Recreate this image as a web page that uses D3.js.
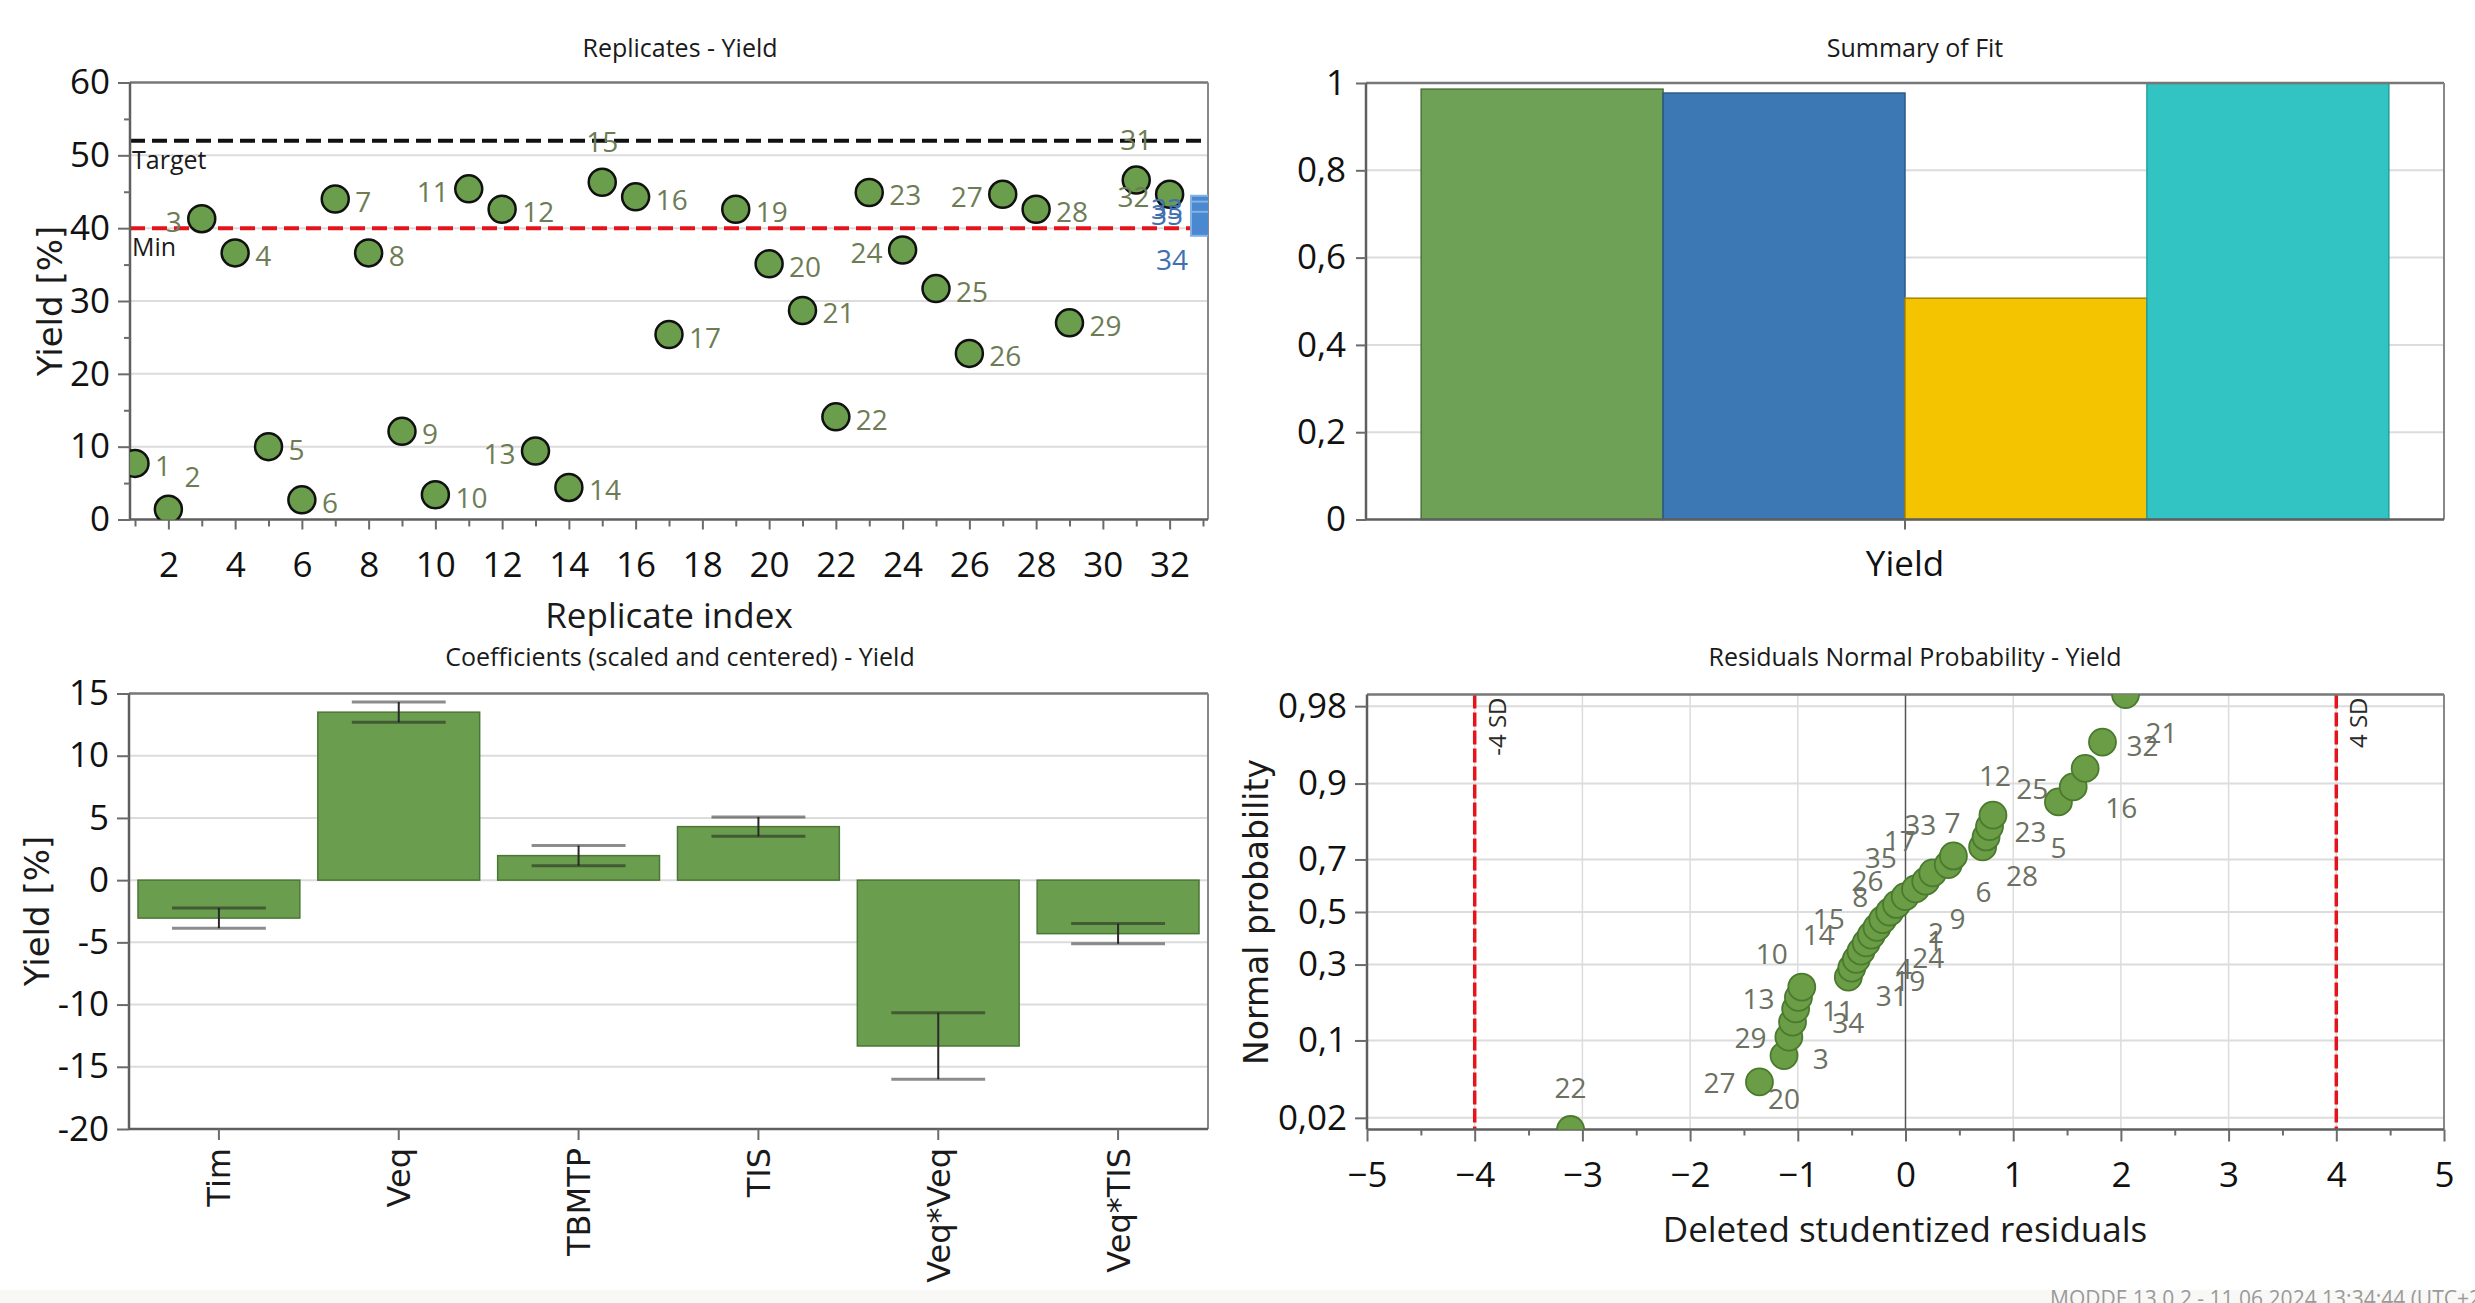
<!DOCTYPE html>
<html>
<head>
<meta charset="utf-8">
<script src="https://cdn.jsdelivr.net/npm/d3@7"></script>
<style>
  html, body { margin: 0; padding: 0; background: #ffffff; }
  svg { display: block; }
</style>
</head>
<body>
<svg id="chart" width="2475" height="1303"></svg>
<script>
// ---------------- Replicates - Yield ----------------
const replicateIndex = [1,2,3,4,5,6,7,8,9,10,11,12,13,14,15,16,17,19,20,21,22,23,24,25,26,27,28,29,31,32];
const replicateYield = [7.7,1.4,41.3,36.6,10.0,2.7,44.0,36.6,12.1,3.4,45.4,42.6,9.4,4.4,46.3,44.3,25.4,42.6,35.1,28.7,14.1,44.9,37.0,31.7,22.8,44.65,42.6,27.0,46.6,44.65];
const replicateRun = [1,2,3,4,5,6,7,8,9,10,11,12,13,14,15,16,17,19,20,21,22,23,24,25,26,27,28,29,31,32];
const centerIndex = [33,33,33];
const centerYield = [42.8,42.0,40.6];
const centerRun = [33,35,34];
const targetYield = 52;
const minYield = 40;
const yieldTicks = [0,10,20,30,40,50,60];
const yieldMinorTicks = [5,15,25,35,45,55];
const replicateTicks = [2,4,6,8,10,12,14,16,18,20,22,24,26,28,30,32];
const replicateMinorTicks = [1,3,5,7,9,11,13,15,17,19,21,23,25,27,29,31,33];

// ---------------- Summary of Fit ----------------
const fitResponse = ["Yield"];
const fitMetrics = ["R2","Q2","Model validity","Reproducibility"];
const fitValues = [0.986,0.977,0.507,0.999];
const fitTicks = [0,0.2,0.4,0.6,0.8,1];
const fitTickLabels = ["0","0,2","0,4","0,6","0,8","1"];

// ---------------- Coefficients ----------------
const coefTerms = ["Tim","Veq","TBMTP","TIS","Veq*Veq","Veq*TIS"];
const coefValues = [-3.05,13.5,1.97,4.3,-13.33,-4.3];
const coefErrors = [0.81,0.81,0.81,0.78,2.67,0.81];
const coefTicks = [15,10,5,0,-5,-10,-15,-20];

// ---------------- Residuals Normal Probability ----------------
const npRun = [22,27,20,3,29,11,13,10,34,31,19,4,24,1,2,14,15,9,8,26,35,17,33,7,6,28,23,12,5,25,16,32,21];
const npResidual = [-3.11,-1.356,-1.128,-1.083,-1.049,-1.020,-0.994,-0.963,-0.531,-0.499,-0.457,-0.413,-0.365,-0.317,-0.265,-0.211,-0.147,-0.083,-0.003,0.093,0.188,0.253,0.397,0.445,0.716,0.748,0.780,0.812,1.420,1.557,1.668,1.829,2.043];
const npProbability = [0.015,0.045,0.076,0.106,0.136,0.167,0.197,0.227,0.258,0.288,0.318,0.348,0.379,0.409,0.439,0.470,0.500,0.530,0.561,0.591,0.621,0.652,0.682,0.712,0.742,0.773,0.803,0.833,0.864,0.894,0.924,0.955,0.985];
const probTicks = [0.02,0.1,0.3,0.5,0.7,0.9,0.98];
const probTickLabels = ["0,02","0,1","0,3","0,5","0,7","0,9","0,98"];
const residualTicks = [-5,-4,-3,-2,-1,0,1,2,3,4,5];
const residualMinorTicks = [-4.5,-3.5,-2.5,-1.5,-0.5,0.5,1.5,2.5,3.5,4.5];
const sdLimits = [-4,4];
const sdLabels = ["-4 SD","4 SD"];

// ---------------- layout (label placement, not data) ----------------
const replicateLabelSide = {2:"ar",3:"l",11:"l",13:"l",15:"a",24:"l",27:"l",31:"a",32:"l"};
const npLabelOffset = [[0,-43],[-40,0],[0,42],[32,21],[-42,15],[42,1],[-40,1],[-30,-34],[0,45],[40,27],[53,21],[43,17],[62,14],[64,5],[59,5],[-64,14],[-61,6],[61,14],[-45,-1],[-48,-9],[-45,-24],[-33,-33],[-28,-41],[-1,-34],[1,44],[36,38],[41,4],[2,-40],[0,45],[-41,1],[36,39],[40,3],[36,37]];

const SANS = '"Open Sans", "Noto Sans", sans-serif';
const WIDE = '"DejaVu Sans", Verdana, sans-serif';
const AXIS_COL = "#6b6b6b";
const GRID_COL = "#dcdcdc";

const svg = d3.select("#chart");
const defs = svg.append("defs");

function clipRect(id, b) {
  defs.append("clipPath").attr("id", id).append("rect")
    .attr("x", b.l).attr("y", b.t).attr("width", b.r - b.l).attr("height", b.b - b.t);
  return "url(#" + id + ")";
}
function styleAxis(g, size, width) {
  g.select(".domain").remove();
  g.selectAll(".tick line").attr("stroke", AXIS_COL).attr("stroke-width", width || 2);
  g.selectAll(".tick text").attr("fill", "#111").style("font-family", SANS).style("font-size", (size || 34) + "px");
}
function frame(g, b) {
  g.append("line").attr("x1", b.l).attr("x2", b.r).attr("y1", b.t).attr("y2", b.t).attr("stroke", "#777").attr("stroke-width", 2.5);
  g.append("line").attr("x1", b.r).attr("x2", b.r).attr("y1", b.t).attr("y2", b.b).attr("stroke", "#888").attr("stroke-width", 2);
  g.append("line").attr("x1", b.l).attr("x2", b.l).attr("y1", b.t).attr("y2", b.b).attr("stroke", "#5f5f5f").attr("stroke-width", 2.5);
  g.append("line").attr("x1", b.l).attr("x2", b.r).attr("y1", b.b).attr("y2", b.b).attr("stroke", "#5f5f5f").attr("stroke-width", 2.5);
}
function title(text, x, y) {
  svg.append("text").attr("x", x).attr("y", y).attr("text-anchor", "middle")
    .style("font-family", SANS).style("font-size", "25px").attr("fill", "#1a1a1a").text(text);
}
function yTitle(text, x, y, size) {
  svg.append("text").attr("transform", `translate(${x},${y}) rotate(-90)`)
    .attr("text-anchor", "middle").attr("dominant-baseline", "central")
    .style("font-family", WIDE).style("font-size", (size || 34) + "px").attr("fill", "#1a1a1a").text(text);
}

// inverse of the standard normal CDF (Acklam)
function probit(p) {
  const a = [-3.969683028665376e+01, 2.209460984245205e+02, -2.759285104469687e+02, 1.383577518672690e+02, -3.066479806614716e+01, 2.506628277459239e+00];
  const b = [-5.447609879822406e+01, 1.615858368580409e+02, -1.556989798598866e+02, 6.680131188771972e+01, -1.328068155288572e+01];
  const c = [-7.784894002430293e-03, -3.223964580411365e-01, -2.400758277161838e+00, -2.549732539343734e+00, 4.374664141464968e+00, 2.938163982698783e+00];
  const d = [7.784695709041462e-03, 3.224671290700398e-01, 2.445134137142996e+00, 3.754408661907416e+00];
  const pl = 0.02425, ph = 1 - pl;
  let q, r;
  if (p < pl) {
    q = Math.sqrt(-2 * Math.log(p));
    return (((((c[0]*q+c[1])*q+c[2])*q+c[3])*q+c[4])*q+c[5]) / ((((d[0]*q+d[1])*q+d[2])*q+d[3])*q+1);
  }
  if (p > ph) {
    q = Math.sqrt(-2 * Math.log(1 - p));
    return -(((((c[0]*q+c[1])*q+c[2])*q+c[3])*q+c[4])*q+c[5]) / ((((d[0]*q+d[1])*q+d[2])*q+d[3])*q+1);
  }
  q = p - 0.5; r = q * q;
  return (((((a[0]*r+a[1])*r+a[2])*r+a[3])*r+a[4])*r+a[5])*q / (((((b[0]*r+b[1])*r+b[2])*r+b[3])*r+b[4])*r+1);
}

// ======================= Replicates - Yield =======================
{
  const B = {l: 130, r: 1208, t: 82.5, b: 519.5};
  const x = d3.scaleLinear().domain([0.85, 33.15]).range([B.l, B.r]);
  const y = d3.scaleLinear().domain([0, 60]).range([B.b, B.t]);
  const g = svg.append("g");
  const cp = clipRect("clipRep", B);

  g.selectAll("line.grid").data(yieldTicks.filter(v => v > 0 && v < 60)).join("line")
    .attr("x1", B.l).attr("x2", B.r).attr("y1", d => y(d)).attr("y2", d => y(d))
    .attr("stroke", GRID_COL).attr("stroke-width", 2);

  // reference lines
  g.append("line").attr("x1", B.l).attr("x2", B.r).attr("y1", y(targetYield)).attr("y2", y(targetYield))
    .attr("stroke", "#111").attr("stroke-width", 4).attr("stroke-dasharray", "15,7");
  g.append("line").attr("x1", B.l).attr("x2", B.r).attr("y1", y(minYield)).attr("y2", y(minYield))
    .attr("stroke", "#e3141c").attr("stroke-width", 4).attr("stroke-dasharray", "15,7");
  g.append("text").attr("x", B.l + 2).attr("y", y(targetYield) + 28).style("font-family", SANS)
    .style("font-size", "25px").attr("fill", "#1a1a1a").text("Target");
  g.append("text").attr("x", B.l + 2).attr("y", y(minYield) + 28).style("font-family", SANS)
    .style("font-size", "25px").attr("fill", "#1a1a1a").text("Min");

  frame(g, B);

  const ax = g.append("g").attr("transform", `translate(${B.l},0)`)
    .call(d3.axisLeft(y).tickValues(yieldTicks).tickSize(12).tickPadding(8).tickFormat(d3.format("d")));
  styleAxis(ax, 35);
  const axm = g.append("g").attr("transform", `translate(${B.l},0)`)
    .call(d3.axisLeft(y).tickValues(yieldMinorTicks).tickSize(6).tickFormat(""));
  styleAxis(axm);
  const bx = g.append("g").attr("transform", `translate(0,${B.b})`)
    .call(d3.axisBottom(x).tickValues(replicateTicks).tickSize(10).tickPadding(23).tickFormat(d3.format("d")));
  styleAxis(bx, 35);
  const bxm = g.append("g").attr("transform", `translate(0,${B.b})`)
    .call(d3.axisBottom(x).tickValues(replicateMinorTicks).tickSize(7).tickFormat(""));
  styleAxis(bxm);

  // center points (blue squares)
  const sq = 24;
  g.append("g").attr("clip-path", cp).selectAll("rect").data(centerIndex.map((v, i) => i)).join("rect")
    .attr("x", i => x(centerIndex[i]) - sq / 2).attr("y", i => y(centerYield[i]) - sq / 2)
    .attr("width", sq).attr("height", sq)
    .attr("fill", "#4a88cf").attr("stroke", "#82b2e6").attr("stroke-width", 2);

  // replicate points
  g.append("g").attr("clip-path", cp).selectAll("circle").data(replicateIndex.map((v, i) => i)).join("circle")
    .attr("cx", i => x(replicateIndex[i])).attr("cy", i => y(replicateYield[i])).attr("r", 13.5)
    .attr("fill", "#6a9d4c").attr("stroke", "#111").attr("stroke-width", 2.5);

  // point labels
  const lg = g.append("g").style("font-family", SANS).style("font-size", "28px");
  replicateIndex.forEach((v, i) => {
    const cx = x(v), cy = y(replicateYield[i]);
    const side = replicateLabelSide[replicateRun[i]] || "r";
    let tx = cx + 20, ty = cy + 2, anchor = "start";
    if (side === "l") { tx = cx - 20; anchor = "end"; }
    if (side === "a") { tx = cx; ty = cy - 41; anchor = "middle"; }
    if (side === "ar") { tx = cx + 16; ty = cy - 33; anchor = "start"; }
    lg.append("text").attr("x", tx).attr("y", ty).attr("text-anchor", anchor)
      .attr("dominant-baseline", "central").attr("fill", "#6e7c55").text(replicateRun[i]);
  });
  centerIndex.forEach((v, i) => {
    const cx = x(v), cy = y(centerYield[i]);
    const below = centerRun[i] === 34;
    lg.append("text").attr("x", below ? cx - 31 : cx - 20).attr("y", below ? cy + 35 : cy)
      .attr("text-anchor", below ? "middle" : "end").attr("dominant-baseline", "central")
      .attr("fill", "#4070b0").text(centerRun[i]);
  });

  title("Replicates - Yield", 680, 57);
  yTitle("Yield [%]", 50, 301, 34);
  svg.append("text").attr("x", 669).attr("y", 628).attr("text-anchor", "middle")
    .style("font-family", SANS).style("font-size", "35px").attr("fill", "#1a1a1a").text("Replicate index");
}

// ======================= Summary of Fit =======================
{
  const B = {l: 1366, r: 2444, t: 83, b: 519.5};
  const x = d3.scaleBand().domain(fitResponse).range([B.l, B.r]).paddingInner(0).paddingOuter(0.057);
  const xm = d3.scaleBand().domain(fitMetrics).range([0, x.bandwidth()]).padding(0);
  const y = d3.scaleLinear().domain([0, 1]).range([B.b, B.t]);
  const fills = ["#6ea155", "#3c78b4", "#f5c400", "#32c4c2"];
  const strokes = ["#4a7436", "#2a5888", "#a88400", "#22a09f"];
  const g = svg.append("g");

  g.selectAll("line.grid").data(fitTicks.filter(v => v > 0 && v < 1)).join("line")
    .attr("x1", B.l).attr("x2", B.r).attr("y1", d => y(d)).attr("y2", d => y(d))
    .attr("stroke", GRID_COL).attr("stroke-width", 2);

  g.selectAll("rect").data(fitMetrics.map((m, i) => i)).join("rect")
    .attr("x", i => x(fitResponse[0]) + xm(fitMetrics[i]))
    .attr("y", i => y(fitValues[i]))
    .attr("width", xm.bandwidth())
    .attr("height", i => y(0) - y(fitValues[i]))
    .attr("fill", i => fills[i]).attr("stroke", i => strokes[i]).attr("stroke-width", 1.5);

  frame(g, B);
  const ax = g.append("g").attr("transform", `translate(${B.l},0)`)
    .call(d3.axisLeft(y).tickValues(fitTicks).tickSize(10).tickPadding(10).tickFormat((d, i) => fitTickLabels[i]));
  styleAxis(ax, 35);
  const bx = g.append("g").attr("transform", `translate(0,${B.b})`)
    .call(d3.axisBottom(x).tickSize(10).tickPadding(22));
  styleAxis(bx, 35);

  title("Summary of Fit", 1915, 57);
}

// ======================= Coefficients =======================
{
  const B = {l: 129, r: 1208, t: 693.5, b: 1129};
  const x = d3.scaleBand().domain(coefTerms).range([B.l, B.r]).paddingInner(0.1).paddingOuter(0.05);
  const y = d3.scaleLinear().domain([-20, 15]).range([B.b, B.t]);
  const g = svg.append("g");

  g.selectAll("line.grid").data(coefTicks.filter(v => v > -20 && v < 15)).join("line")
    .attr("x1", B.l).attr("x2", B.r).attr("y1", d => y(d)).attr("y2", d => y(d))
    .attr("stroke", GRID_COL).attr("stroke-width", 2);

  g.selectAll("rect").data(coefTerms.map((t, i) => i)).join("rect")
    .attr("x", i => x(coefTerms[i]))
    .attr("y", i => y(Math.max(0, coefValues[i])))
    .attr("width", x.bandwidth())
    .attr("height", i => Math.abs(y(coefValues[i]) - y(0)))
    .attr("fill", "#6a9d4e").attr("stroke", "#4b7636").attr("stroke-width", 1.5);

  // confidence intervals
  const capW = x.bandwidth() * 0.58;
  const eg = g.append("g");
  coefTerms.forEach((t, i) => {
    const cx = x(t) + x.bandwidth() / 2;
    const hi = coefValues[i] + coefErrors[i], lo = coefValues[i] - coefErrors[i];
    eg.append("line").attr("x1", cx).attr("x2", cx).attr("y1", y(hi)).attr("y2", y(lo))
      .attr("stroke", "#2a2a2a").attr("stroke-width", 2);
    [hi, lo].forEach(v => {
      eg.append("line").attr("x1", cx - capW / 2).attr("x2", cx + capW / 2).attr("y1", y(v)).attr("y2", y(v))
        .attr("stroke", "#1a1a1a").attr("stroke-opacity", 0.5).attr("stroke-width", 3);
    });
  });

  frame(g, B);
  const ax = g.append("g").attr("transform", `translate(${B.l},0)`)
    .call(d3.axisLeft(y).tickValues(coefTicks).tickSize(12).tickPadding(8).tickFormat(d => String(d)));
  styleAxis(ax, 35);
  const bx = g.append("g").attr("transform", `translate(0,${B.b})`)
    .call(d3.axisBottom(x).tickSize(11).tickFormat(""));
  styleAxis(bx);

  g.append("g").selectAll("text").data(coefTerms).join("text")
    .attr("transform", d => `translate(${x(d) + x.bandwidth() / 2},${B.b + 19}) rotate(-90)`)
    .attr("text-anchor", "end").attr("dy", "0.36em")
    .style("font-family", WIDE).style("font-size", "32px").attr("fill", "#1a1a1a").text(d => d);

  title("Coefficients (scaled and centered) - Yield", 680, 666);
  yTitle("Yield [%]", 37, 911, 34);
}

// ======================= Residuals Normal Probability =======================
{
  const B = {l: 1367, r: 2444, t: 694.5, b: 1129.5};
  const x = d3.scaleLinear().domain([-5, 5]).range([B.l, B.r]);
  const y = d3.scaleLinear().domain(d3.extent(npProbability.map(probit))).range([B.b, B.t]);
  const g = svg.append("g");
  const cp = clipRect("clipNp", B);

  g.selectAll("line.vgrid").data(residualTicks.filter(v => v > -5 && v < 5 && v !== 0)).join("line")
    .attr("x1", d => x(d)).attr("x2", d => x(d)).attr("y1", B.t).attr("y2", B.b)
    .attr("stroke", GRID_COL).attr("stroke-width", 1.5);
  g.selectAll("line.hgrid").data(probTicks).join("line")
    .attr("x1", B.l).attr("x2", B.r).attr("y1", d => y(probit(d))).attr("y2", d => y(probit(d)))
    .attr("stroke", GRID_COL).attr("stroke-width", 2);
  g.append("line").attr("x1", x(0)).attr("x2", x(0)).attr("y1", B.t).attr("y2", B.b)
    .attr("stroke", "#555").attr("stroke-width", 1.5);

  // +/- 4 SD limits
  sdLimits.forEach((v, i) => {
    g.append("line").attr("x1", x(v)).attr("x2", x(v)).attr("y1", B.t).attr("y2", B.b)
      .attr("stroke", "#e3141c").attr("stroke-width", 3.5).attr("stroke-dasharray", "14,4");
    g.append("text").attr("transform", `translate(${x(v) + 31},${B.t + 3}) rotate(-90)`)
      .attr("text-anchor", "end").style("font-family", SANS).style("font-size", "24px")
      .attr("fill", "#2a2a2a").text(sdLabels[i]);
  });

  frame(g, B);
  const ax = g.append("g").attr("transform", `translate(${B.l},0)`)
    .call(d3.axisLeft(y).tickValues(probTicks.map(probit)).tickSize(12).tickPadding(8).tickFormat((d, i) => probTickLabels[i]));
  styleAxis(ax, 35);
  const bx = g.append("g").attr("transform", `translate(0,${B.b})`)
    .call(d3.axisBottom(x).tickValues(residualTicks).tickSize(12).tickPadding(21).tickFormat(d3.format("d")));
  styleAxis(bx, 35);
  const bxm = g.append("g").attr("transform", `translate(0,${B.b})`)
    .call(d3.axisBottom(x).tickValues(residualMinorTicks).tickSize(6).tickFormat(""));
  styleAxis(bxm);

  g.append("g").attr("clip-path", cp).selectAll("circle").data(npRun.map((r, i) => i)).join("circle")
    .attr("cx", i => x(npResidual[i])).attr("cy", i => y(probit(npProbability[i]))).attr("r", 13.5)
    .attr("fill", "#6a9d46").attr("stroke", "#4a7a2e").attr("stroke-width", 1.8);

  g.append("g").style("font-family", SANS).style("font-size", "28px")
    .selectAll("text").data(npRun.map((r, i) => i)).join("text")
    .attr("x", i => x(npResidual[i]) + npLabelOffset[i][0])
    .attr("y", i => y(probit(npProbability[i])) + npLabelOffset[i][1])
    .attr("text-anchor", "middle").attr("dominant-baseline", "central")
    .attr("fill", "#6b7062").text(i => npRun[i]);

  title("Residuals Normal Probability - Yield", 1915, 666);
  yTitle("Normal probability", 1256, 912, 33);
  svg.append("text").attr("x", 1905).attr("y", 1242).attr("text-anchor", "middle")
    .style("font-family", SANS).style("font-size", "35px").attr("fill", "#1a1a1a").text("Deleted studentized residuals");
}

// footer strip
svg.append("rect").attr("x", 0).attr("y", 1290).attr("width", 2475).attr("height", 13).attr("fill", "#f8f8f6");
svg.append("text").attr("x", 2050).attr("y", 1306).style("font-family", SANS).style("font-size", "21px")
  .attr("fill", "#9a9a9a").text("MODDE 13.0.2 - 11.06.2024 13:34:44 (UTC+2");
</script>
</body>
</html>
